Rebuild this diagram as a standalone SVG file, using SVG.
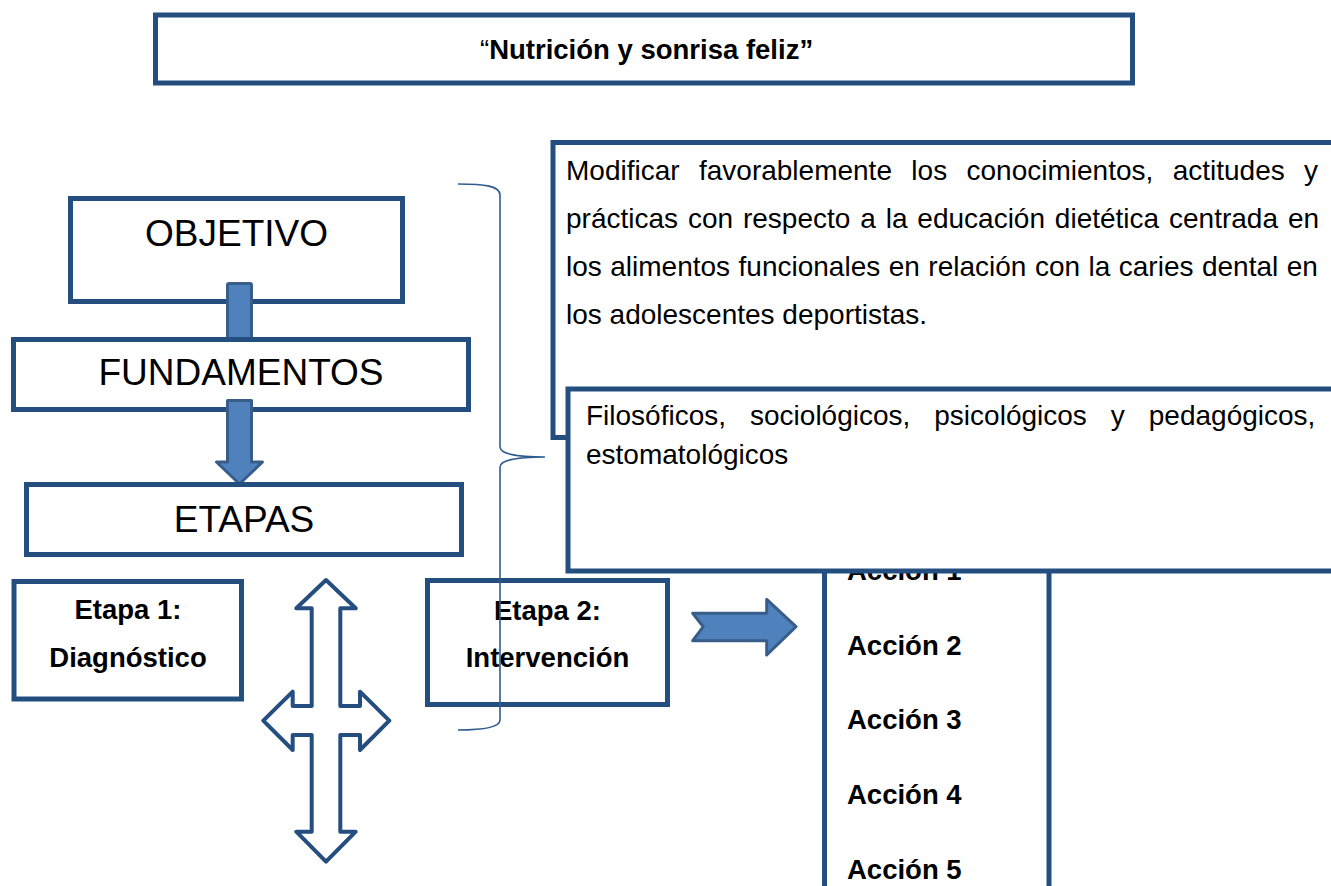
<svg xmlns="http://www.w3.org/2000/svg" width="1331" height="886" viewBox="0 0 1331 886">
<style>
.box{fill:#fff;stroke:#254E80;stroke-width:5}
.big{font-family:"Liberation Sans",Arial,sans-serif;font-size:37px;fill:#000}
.body{font-family:"Liberation Sans",Arial,sans-serif;font-size:28px;fill:#000}
.bold{font-family:"Liberation Sans",Arial,sans-serif;font-size:27.5px;font-weight:bold;fill:#000}
.fill-arrow{fill:#4F81BD;stroke:#385D8A;stroke-width:3;stroke-linejoin:round}
.out-arrow{fill:#fff;stroke:#254E80;stroke-width:4;stroke-linejoin:round}
.brace{fill:none;stroke:#2F5D91;stroke-width:1.6}
.tline{stroke:#254E80;stroke-width:5}
</style>
<rect width="1331" height="886" fill="#fff"/>

<g id="title">
<rect class="box" x="155.5" y="15" width="977" height="68"/>
<text x="480" y="59" class="bold" font-size="28"><tspan font-weight="normal">“</tspan>Nutrición y sonrisa feliz”</text>
</g>

<g id="objetivo">
<rect class="box" x="70.5" y="198.5" width="332" height="103"/>
<text x="236.5" y="246" class="big" text-anchor="middle">OBJETIVO</text>
</g>

<g id="connectors-1">
<rect class="fill-arrow" x="227.5" y="283.5" width="24" height="60" rx="1.5"/>
</g>

<g id="fundamentos">
<rect class="box" x="13.5" y="339.5" width="455" height="70"/>
<text x="241" y="385" class="big" text-anchor="middle">FUNDAMENTOS</text>
</g>

<g id="connectors-2">
<path class="fill-arrow" d="M227.5,400.5 L251.5,400.5 L251.5,462 L262.5,462 L239.5,484 L216.5,462 L227.5,462 Z"/>
</g>

<g id="etapas">
<rect class="box" x="26.5" y="484.5" width="435" height="70"/>
<text x="244" y="532" class="big" text-anchor="middle">ETAPAS</text>
</g>

<g id="tabla-acciones">
<line class="tline" x1="824.5" y1="560" x2="824.5" y2="890"/>
<line class="tline" x1="1049" y1="560" x2="1049" y2="890"/>
<text x="847" y="580" class="bold">Acción 1</text>
<text x="847" y="654.5" class="bold">Acción 2</text>
<text x="847" y="728.5" class="bold">Acción 3</text>
<text x="847" y="803.5" class="bold">Acción 4</text>
<text x="847" y="878.5" class="bold">Acción 5</text>
</g>

<g id="objetivo-texto">
<rect class="box" x="553" y="142.5" width="790" height="295"/>
<text class="body" x="566" y="180" word-spacing="11.6">Modificar favorablemente los conocimientos, actitudes y</text>
<text class="body" x="566" y="228" word-spacing="2.1">prácticas con respecto a la educación dietética centrada en</text>
<text class="body" x="566" y="276" word-spacing="0.7">los alimentos funcionales en relación con la caries dental en</text>
<text class="body" x="566" y="324">los adolescentes deportistas.</text>
</g>

<g id="fundamentos-texto">
<rect class="box" x="568" y="389" width="775" height="182"/>
<text class="body" x="586" y="425" word-spacing="16.2">Filosóficos, sociológicos, psicológicos y pedagógicos,</text>
<text class="body" x="586" y="464">estomatológicos</text>
</g>

<g id="etapa1">
<rect class="box" x="14" y="581.5" width="227.5" height="117.5"/>
<text x="128" y="618.5" class="bold" text-anchor="middle">Etapa 1:</text>
<text x="128" y="666.5" class="bold" text-anchor="middle">Diagnóstico</text>
</g>

<g id="etapa2">
<rect class="box" x="427.5" y="580.5" width="240" height="124"/>
<text x="547.5" y="619.5" class="bold" text-anchor="middle">Etapa 2:</text>
<text x="547.5" y="666.5" class="bold" text-anchor="middle">Intervención</text>
</g>

<g id="connectors">
<path class="out-arrow" d="M326,580 L355.7,608.3 L340.3,608.3 L340.3,706 L360,706 L360,691.7 L389.3,720.7 L360,750 L360,735 L340.3,735 L340.3,831.7 L355.7,831.7 L326,861.7 L296.3,831.7 L311.7,831.7 L311.7,735 L292.7,735 L292.7,750 L263.3,720.7 L292.7,691.7 L292.7,706 L311.7,706 L311.7,608.3 L296.3,608.3 Z"/>
<path class="fill-arrow" d="M692.7,613.3 L766.7,613.3 L766.7,599.3 L796,626.7 L766.7,655 L766.7,640.7 L692.7,640.7 L703.3,626.7 Z"/>
<path class="brace" d="M458,184 C485,184 500,186 500,195 L500,447 C500,453 514,457 545,457 C514,457 500,461 500,467 L500,720 C500,727 485,730 458,730"/>
</g>
</svg>
